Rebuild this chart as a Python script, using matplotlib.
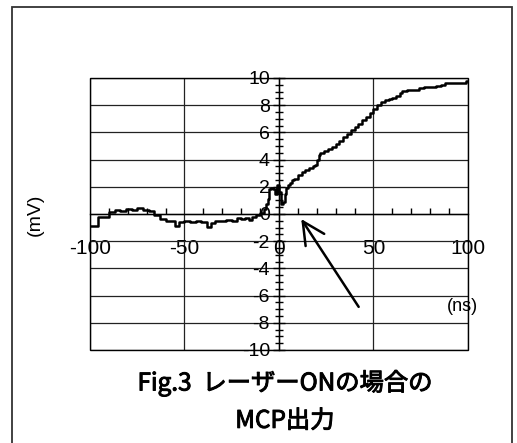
import matplotlib
matplotlib.use("Agg")
import matplotlib.pyplot as plt
import matplotlib.patheffects as pe
from matplotlib.patches import Rectangle
from matplotlib.ticker import MultipleLocator

plt.rcParams['font.family'] = ['Liberation Sans', 'Noto Sans CJK JP', 'DejaVu Sans']
plt.rcParams['axes.unicode_minus'] = False

# MCP出力 波形 (ns, mV) - 図から読み取り
time_ns = [-100, -96, -93, -90, -87, -84, -81, -78, -75, -72, -69, -66, -63, -60,
           -57, -55, -53, -50, -47, -44, -41, -38, -36, -34, -31, -28, -25, -22,
           -20, -18, -16, -14, -12, -10, -8, -7, -6, -5, -4, -3, -2, -1, 0, 1,
           2, 3, 4, 5, 6, 7, 8, 10, 12, 14, 16, 18, 19, 20, 21, 22, 24, 26, 28,
           30, 32, 34, 36, 38, 40, 42, 44, 46, 48, 50, 52, 54, 56, 58, 60, 62,
           64, 65, 68, 71, 74, 77, 80, 83, 86, 88, 92, 96, 99, 100]
signal_mv = [-0.9, -0.25, -0.2, 0.15, 0.3, 0.25, 0.35, 0.3, 0.45, 0.3, 0.2, -0.1,
             -0.4, -0.5, -0.55, -0.9, -0.6, -0.55, -0.6, -0.55, -0.6, -0.95, -0.7,
             -0.5, -0.5, -0.45, -0.5, -0.3, -0.4, -0.3, -0.45, -0.25, -0.1, 0.1,
             0.4, 0.7, 1.1, 1.8, 1.9, 1.8, 1.5, 2.1, 1.6, 0.7, 0.9, 1.5, 1.9, 2.1,
             2.3, 2.5, 2.6, 2.9, 3.1, 3.25, 3.4, 3.55, 3.6, 4.0, 4.3, 4.5, 4.6,
             4.75, 4.95, 5.15, 5.4, 5.65, 5.9, 6.15, 6.4, 6.65, 6.9, 7.15, 7.45,
             7.75, 8.0, 8.2, 8.35, 8.45, 8.55, 8.7, 8.9, 9.05, 9.1, 9.15, 9.25,
             9.3, 9.35, 9.4, 9.45, 9.6, 9.6, 9.65, 9.75, 9.75]

x_ticks = [-100, -50, 0, 50, 100]
y_ticks = [-10, -8, -6, -4, -2, 0, 2, 4, 6, 8, 10]

fig = plt.figure(figsize=(5.17, 4.43), dpi=100)
ax = fig.add_axes([0.174, 0.210, 0.731, 0.614])

ax.plot(time_ns, signal_mv, drawstyle='steps-post', color='black', lw=1.8, zorder=3)

ax.set_xlim(-100, 100)
ax.set_ylim(-10, 10)

# 軸は原点を通す
ax.spines['left'].set_position(('data', 0))
ax.spines['bottom'].set_position(('data', 0))
ax.spines['top'].set_visible(False)
ax.spines['right'].set_visible(False)
for s in ('left', 'bottom'):
    ax.spines[s].set_linewidth(1.0)

ax.add_patch(Rectangle((0, 0), 1, 1, transform=ax.transAxes, fill=False,
                       ec='black', lw=1.0, clip_on=False, zorder=2))

ax.set_xticks(x_ticks)
ax.set_yticks(y_ticks)
ax.xaxis.set_minor_locator(MultipleLocator(10))
ax.yaxis.set_minor_locator(MultipleLocator(0.5))
ax.grid(True, which='major', color='#222222', lw=0.9)

ax.tick_params(axis='x', which='major', direction='in', length=0, pad=18, labelsize=15)
ax.tick_params(axis='x', which='minor', direction='in', length=4, width=1)
ax.tick_params(axis='y', which='major', direction='inout', length=9, width=1,
               pad=2, labelsize=14)
ax.tick_params(axis='y', which='minor', direction='inout', length=6, width=1)

ax.annotate('', xy=(11, -0.2), xytext=(43, -7.0),
            arrowprops=dict(arrowstyle='->,head_length=0.8,head_width=0.4',
                            lw=1.8, color='black', mutation_scale=20))

ax.text(97, -6.8, '(ns)', fontsize=13, ha='center', va='center')
fig.text(0.068, 0.515, '(mV)', fontsize=14, rotation=90, ha='center', va='center')

# タイトルは少し太めに
title_font = ['Noto Sans CJK JP', 'DejaVu Sans']
thick = [pe.withStroke(linewidth=0.7, foreground='black')]
fig.text(0.551, 0.135, 'Fig.3  レーザーONの場合の', fontsize=17.5, family=title_font,
         ha='center', va='center', path_effects=thick)
fig.text(0.551, 0.050, 'MCP出力', fontsize=17.5, family=title_font,
         ha='center', va='center', path_effects=thick)

# 外枠
fig.patches.append(Rectangle((0.023, -0.05), 0.967, 1.034, transform=fig.transFigure,
                             fill=False, ec='#333333', lw=1.3))

fig.savefig('out.png', dpi=100)
